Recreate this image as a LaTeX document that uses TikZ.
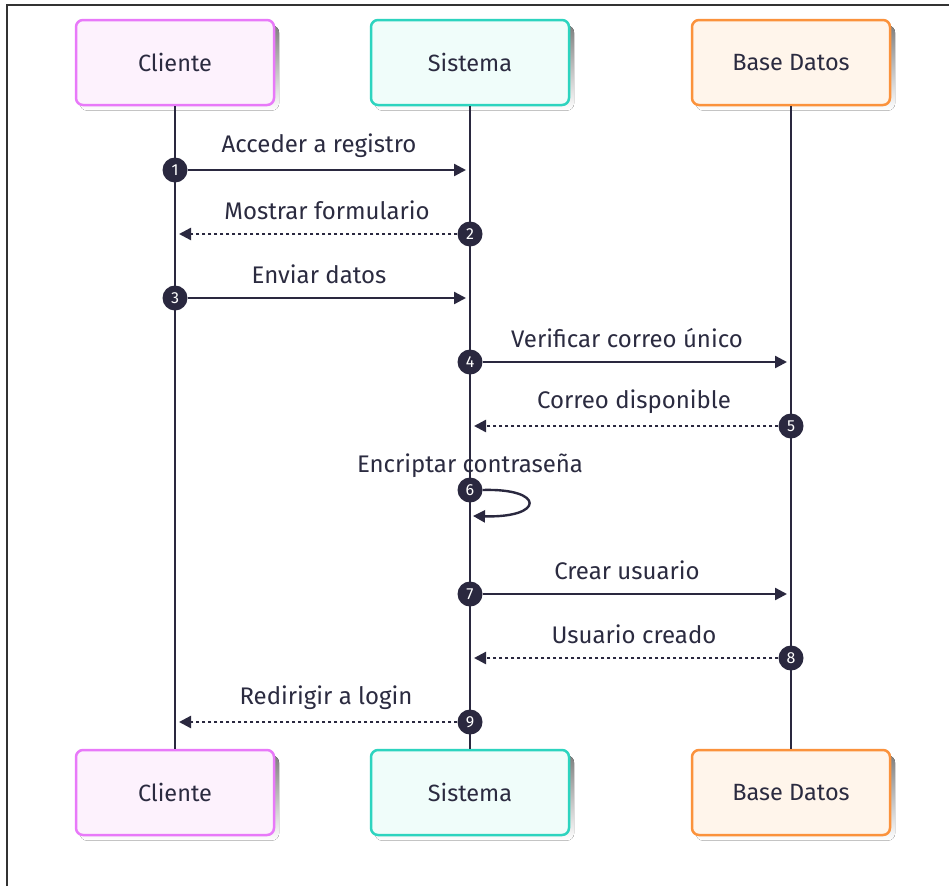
\documentclass[tikz,border=0pt]{standalone}
\usepackage{fontspec}
\setmainfont{Fira Sans}
\usetikzlibrary{arrows.meta}

\definecolor{ink}{HTML}{2A283F}
\definecolor{txt}{HTML}{2B2B40}
\definecolor{cliBorder}{HTML}{E879F9}
\definecolor{cliFill}{HTML}{FDF2FD}
\definecolor{sisBorder}{HTML}{2DD4BF}
\definecolor{sisFill}{HTML}{F0FDFA}
\definecolor{bdBorder}{HTML}{FB923C}
\definecolor{bdFill}{HTML}{FFF5EB}
\definecolor{shade}{HTML}{F1F1F1}

\tikzset{
  actor/.style={draw=#1Border, fill=#1Fill, line width=2.5pt, rounded corners=7pt,
    minimum width=198pt, minimum height=85pt, inner sep=0pt,
    text=txt, font=\fontsize{23.5}{26}\selectfont},
  lifeline/.style={draw=ink, line width=2.4pt},
  msg/.style={draw=ink, line width=2.4pt, -{Triangle[length=12pt,width=12pt]}},
  reply/.style={msg, dash pattern=on 3pt off 3pt},
  stepnum/.style={circle, fill=ink, text=white, minimum size=25pt, inner sep=0pt,
    font=\fontsize{16}{16}\selectfont},
  lbl/.style={text=txt, font=\fontsize{24}{27}\selectfont, inner sep=0pt},
  frameline/.style={draw=black!80, line width=2pt}
}

\begin{document}
\begin{tikzpicture}[x=1pt, y=-1pt]
  \useasboundingbox (0,0) rectangle (949,886);
  \fill[white] (0,0) rectangle (949,886);

  % outer frame (left and top edges)
  \draw[frameline] (7,886) -- (7,5) -- (949,5);

  % drop shadows of the participant boxes
  \foreach \cx/\cy in {175/62.5, 470/62.5, 791/62.5, 175/792.5, 470/792.5, 791/792.5}
    \fill[shade, rounded corners=7pt] (\cx-95,\cy-37) rectangle (\cx+104,\cy+48);

  % participants, top and bottom
  \node[actor=cli] (cliT) at (175,62.5) {Cliente};
  \node[actor=sis] (sisT) at (470,62.5) {Sistema};
  \node[actor=bd]  (bdT)  at (791,62.5) {Base Datos};
  \node[actor=cli] (cliB) at (175,792.5) {Cliente};
  \node[actor=sis] (sisB) at (470,792.5) {Sistema};
  \node[actor=bd]  (bdB)  at (791,792.5) {Base Datos};

  % lifelines
  \draw[lifeline] (cliT.south) -- (cliB.north);
  \draw[lifeline] (sisT.south) -- (sisB.north);
  \draw[lifeline] (bdT.south) -- (bdB.north);

  % arrow targets on the lifelines
  \coordinate (t1) at (466,170);
  \coordinate (t2) at (179,234);
  \coordinate (t3) at (466,298);
  \coordinate (t4) at (787,362);
  \coordinate (t5) at (474,426);
  \coordinate (t6) at (473,516);
  \coordinate (t7) at (787,594);
  \coordinate (t8) at (474,658);
  \coordinate (t9) at (179,722);

  % numbered step markers
  \node[stepnum] (n1) at (175,170) {1};
  \node[stepnum] (n2) at (470,234) {2};
  \node[stepnum] (n3) at (175,298) {3};
  \node[stepnum] (n4) at (470,362) {4};
  \node[stepnum] (n5) at (791,426) {5};
  \node[stepnum] (n7) at (470,594) {7};
  \node[stepnum] (n8) at (791,658) {8};
  \node[stepnum] (n9) at (470,722) {9};

  % messages
  \draw[msg]   (n1) -- (t1);
  \draw[reply] (n2) -- (t2);
  \draw[msg]   (n3) -- (t3);
  \draw[msg]   (n4) -- (t4);
  \draw[reply] (n5) -- (t5);
  \draw[msg]   (n7) -- (t7);
  \draw[reply] (n8) -- (t8);
  \draw[reply] (n9) -- (t9);

  % message labels
  \node[lbl] (l1) at (319,146) {Acceder a registro};
  \node[lbl] (l2) at (327,210) {Mostrar formulario};
  \node[lbl] (l3) at (319,274) {Enviar datos};
  \node[lbl] (l4) at (627,338) {Verificar correo único};
  \node[lbl] (l5) at (634,402) {Correo disponible};
  \node[lbl] (l6) at (470,466) {Encriptar contraseña};
  \node[lbl] (l7) at (627,570) {Crear usuario};
  \node[lbl] (l8) at (634,634) {Usuario creado};
  \node[lbl] (l9) at (326,698) {Redirigir a login};

  % self call on Sistema
  \node[stepnum] (n6) at (470,490) {6};
  \draw[msg] (n6.east) .. controls (545,488) and (545,518) .. (t6);
\end{tikzpicture}
\end{document}
